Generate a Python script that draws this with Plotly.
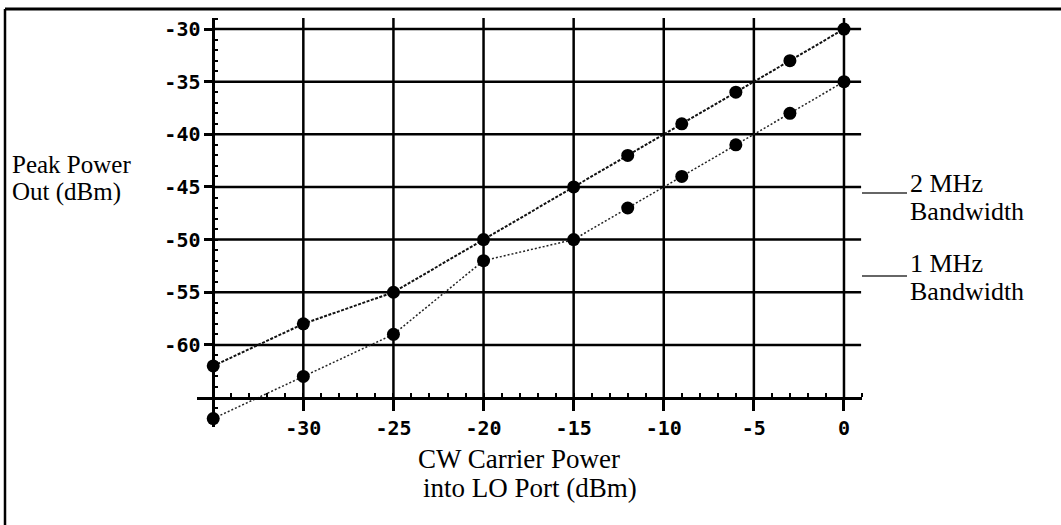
import plotly.graph_objects as go

# CW carrier power into the LO port (dBm)
carrier_dbm = [-35, -30, -25, -20, -15, -12, -9, -6, -3, 0]
# Peak power out (dBm) for each resolution bandwidth
peak_2mhz = [-62, -58, -55, -50, -45, -42, -39, -36, -33, -30]
peak_1mhz = [-67, -63, -59, -52, -50, -47, -44, -41, -38, -35]

x_ticks = [-30, -25, -20, -15, -10, -5, 0]
y_ticks = [-30, -35, -40, -45, -50, -55, -60]
x_tick_text = ["-30", "-25", "-20", "-15", "-10", "-5", "0"]
y_tick_text = ["-30", "-35", "-40", "-45", "-50", "-55", "-60"]

W, H = 1061, 525
L, R, T, B = 197, 199, 18, 98
PW, PH = W - L - R, H - T - B


def px(x):
    return (x - L) / PW


def py(y):
    return (H - B - y) / PH


X_RANGE = [-35.9, 1.0]
Y_RANGE = [-67.8, -28.95]
X_AXIS_AT = -65
Y_AXIS_AT = -35

fig = go.Figure()

fig.add_trace(go.Scatter(
    x=carrier_dbm, y=peak_2mhz, mode="lines+markers", name="2 MHz Bandwidth",
    line=dict(color="#111", width=2, dash="3px,1.5px"),
    marker=dict(color="black", size=13),
))
fig.add_trace(go.Scatter(
    x=carrier_dbm, y=peak_1mhz, mode="lines+markers", name="1 MHz Bandwidth",
    line=dict(color="#222", width=1.5, dash="2px,2px"),
    marker=dict(color="black", size=13),
))

shapes = []
grid = dict(color="black", width=2.5)
# vertical grid lines
for xv in x_ticks:
    shapes.append(dict(type="line", xref="x", yref="paper", x0=xv, x1=xv,
                       y0=py(398), y1=1, line=grid, layer="below"))
# horizontal grid lines
for yv in y_ticks:
    shapes.append(dict(type="line", xref="x", yref="y", x0=Y_AXIS_AT, x1=0.95,
                       y0=yv, y1=yv, line=grid, layer="below"))
# leader lines for the series labels
for yp in (193, 276):
    shapes.append(dict(type="line", xref="paper", yref="paper",
                       x0=px(862), x1=px(907), y0=py(yp), y1=py(yp),
                       line=dict(color="#333", width=1.5)))
# page frame (top and left edges)
shapes.append(dict(type="line", xref="paper", yref="paper",
                   x0=px(5), x1=px(1061), y0=py(9), y1=py(9),
                   line=dict(color="black", width=3)))
shapes.append(dict(type="line", xref="paper", yref="paper",
                   x0=px(5), x1=px(5), y0=py(9), y1=py(525),
                   line=dict(color="black", width=2.5)))

serif = dict(family="Liberation Serif", color="black")
labels = [
    ("Peak Power", 10, 164, "left", 25),
    ("Out (dBm)", 10, 192, "left", 25),
    ("CW Carrier Power", 519, 459, "center", 27),
    ("into LO Port (dBm)", 530, 488, "center", 27),
    ("2 MHz", 908, 183, "left", 26),
    ("Bandwidth", 908, 211, "left", 26),
    ("1 MHz", 908, 263, "left", 26),
    ("Bandwidth", 908, 291, "left", 26),
]
annotations = [
    dict(text=t, xref="paper", yref="paper", x=px(xp), y=py(yp),
         xanchor=anc, yanchor="middle", showarrow=False,
         font=dict(size=sz, **serif))
    for t, xp, yp, anc, sz in labels
]

mono = dict(family="DejaVu Sans Mono", size=20, color="black", weight="bold")

fig.update_layout(
    width=W, height=H,
    margin=dict(l=L, r=R, t=T, b=B, autoexpand=False),
    paper_bgcolor="white", plot_bgcolor="white",
    showlegend=False,
    shapes=shapes,
    annotations=annotations,
    xaxis=dict(
        range=X_RANGE, anchor="free",
        position=(X_AXIS_AT - Y_RANGE[0]) / (Y_RANGE[1] - Y_RANGE[0]),
        tickmode="array", tickvals=x_ticks, ticktext=x_tick_text,
        ticks="outside", ticklen=12, tickwidth=2.5, tickcolor="black",
        showline=True, linecolor="black", linewidth=2.5,
        showgrid=False, zeroline=False, tickfont=mono, automargin=False,
        minor=dict(tickmode="linear", tick0=0, dtick=1, ticks="inside",
                   ticklen=4, tickwidth=2, tickcolor="black", showgrid=False),
    ),
    yaxis=dict(
        range=Y_RANGE, anchor="free",
        position=(Y_AXIS_AT - X_RANGE[0]) / (X_RANGE[1] - X_RANGE[0]),
        tickmode="array", tickvals=y_ticks, ticktext=y_tick_text,
        ticks="outside", ticklen=8, tickwidth=2.5, tickcolor="black",
        showline=True, linecolor="black", linewidth=2.5,
        showgrid=False, zeroline=False, tickfont=mono, automargin=False,
        minor=dict(tickmode="linear", tick0=0, dtick=1, ticks="inside",
                   ticklen=3, tickwidth=2, tickcolor="black", showgrid=False),
    ),
)

fig.write_html("out.html")
